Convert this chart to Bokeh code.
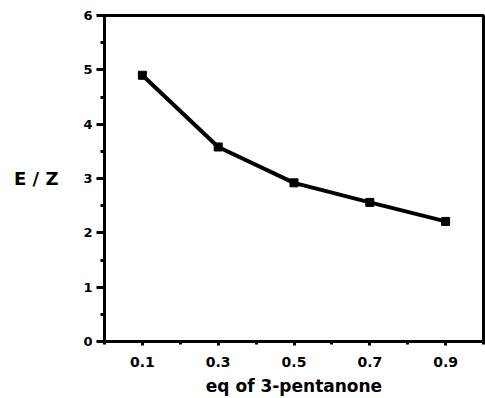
from bokeh.plotting import figure
from bokeh.embed import file_html
from bokeh.resources import INLINE
from bokeh.models import FixedTicker

eq = [0.1, 0.3, 0.5, 0.7, 0.9]
ez = [4.9, 3.58, 2.92, 2.56, 2.21]
x_ticks = [0.1, 0.3, 0.5, 0.7, 0.9]
x_minor = [0.0, 0.2, 0.4, 0.6, 0.8, 1.0]
y_ticks = [0, 1, 2, 3, 4, 5, 6]
y_minor = [0.5, 1.5, 2.5, 3.5, 4.5, 5.5]
y_title = "E / Z"
x_title = "eq of 3-pentanone"

FONT = "DejaVu Sans"

p = figure(width=485, height=398, output_backend="svg", toolbar_location=None,
           x_range=(0, 1.0), y_range=(0, 6),
           min_border_left=104, min_border_right=2, min_border_top=15, min_border_bottom=56)
p.grid.visible = False
p.outline_line_color = "black"
p.outline_line_width = 3

p.line(eq, ez, line_color="black", line_width=4)
p.scatter(eq, ez, marker="square", size=8, color="black")

p.xaxis.ticker = FixedTicker(ticks=x_ticks, minor_ticks=x_minor)
p.yaxis.ticker = FixedTicker(ticks=y_ticks, minor_ticks=y_minor)

for ax in (p.xaxis, p.yaxis):
    ax.axis_line_width = 3
    ax.axis_line_color = "black"
    ax.major_tick_line_width = 3
    ax.minor_tick_line_width = 3
    ax.major_tick_in = 0
    ax.minor_tick_in = 0
    ax.major_label_text_font = FONT
    ax.major_label_text_font_style = "bold"
    ax.major_label_text_color = "black"
    ax.axis_label_text_font = FONT
    ax.axis_label_text_font_style = "bold"
    ax.axis_label_text_color = "black"

p.yaxis.major_tick_out = 8
p.yaxis.minor_tick_out = 4
p.yaxis.major_label_text_font_size = "13px"
p.yaxis.major_label_standoff = 4
p.yaxis.axis_label = y_title
p.yaxis.axis_label_orientation = "horizontal"
p.yaxis.axis_label_text_font_size = "18px"
p.yaxis.axis_label_standoff = 22

p.xaxis.major_tick_out = 4
p.xaxis.minor_tick_out = 3
p.xaxis.major_label_text_font_size = "14px"
p.xaxis.major_label_standoff = 11
p.xaxis.axis_label = x_title
p.xaxis.axis_label_text_font_size = "17px"
p.xaxis.axis_label_standoff = 6

open("out.html", "w").write(file_html(p, INLINE))
